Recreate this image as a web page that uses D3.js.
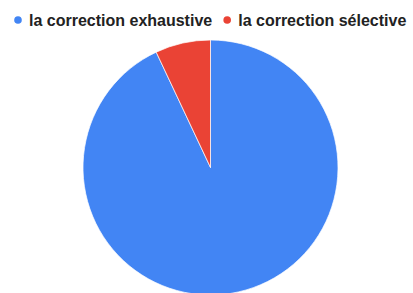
<!DOCTYPE html>
<html><head><meta charset="utf-8">
<script src="https://cdn.jsdelivr.net/npm/d3@7"></script>
<style>html,body{margin:0;padding:0;background:#fff;overflow:hidden}</style>
</head><body>
<script>
const categories = ["la correction exhaustive", "la correction sélective"];
const values = [93, 7];
const colors = ["#4285F4", "#EA4335"];

const W = 413, H = 293;
const svg = d3.select("body").append("svg").attr("width", W).attr("height", H);

const cx = 210.5, cy = 167.5, r = 127.5;
const pie = d3.pie().sort(null).value(d => d.v);
const arc = d3.arc().innerRadius(0).outerRadius(r);
const color = d3.scaleOrdinal().domain(categories).range(colors);

const data = categories.map((c, i) => ({c, v: values[i]}));
svg.append("g").attr("transform", `translate(${cx},${cy})`)
  .selectAll("path").data(pie(data)).join("path")
  .attr("d", arc).attr("fill", d => color(d.data.c))
  .attr("stroke", "#fff").attr("stroke-width", 0.7);

// legend
const lg = svg.append("g");
let x = 18;
const font = "bold 16px 'Liberation Sans', Arial, sans-serif";
categories.forEach((c, i) => {
  lg.append("circle").attr("cx", x).attr("cy", 20).attr("r", 3.8).attr("fill", color(c));
  const t = lg.append("text").attr("x", x + 11).attr("y", 26)
    .style("font", font).attr("fill", "#222").text(c);
  x = x + 11 + t.node().getComputedTextLength() + 15;
});
</script>
</body></html>
